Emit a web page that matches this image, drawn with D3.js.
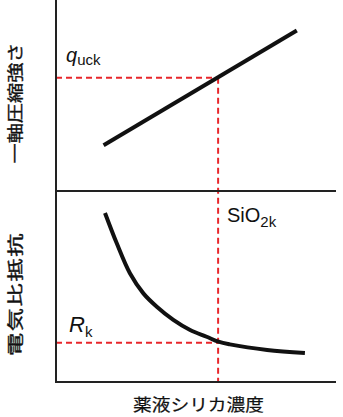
<!DOCTYPE html>
<html>
<head>
<meta charset="utf-8">
<script src="https://cdn.jsdelivr.net/npm/d3@7"></script>
<style>
  body { margin: 0; background: #fff; }
  text { font-family: Arial, "Liberation Sans", sans-serif; fill: #111; }
  .jp { font-family: "Noto Sans CJK JP", sans-serif; }
</style>
</head>
<body>
<div id="chart"></div>
<script>
// values (0-100 schematic units)
const strengthX = [17, 86];
const strengthY = [24, 84];
const resistX = [17.5, 21.7, 26.4, 31.2, 36.0, 41.9, 47.9, 53.8, 58.0, 62.1, 75.4, 88.9];
const resistY = [88.5, 72.6, 56.9, 46.4, 39.4, 32.5, 27.2, 23.7, 21.1, 19.7, 16.8, 15.2];
const silicaK = 57.9;
const quck = 59.3;
const rk = 20.6;

const width = 343, height = 417;
const svg = d3.select("#chart").append("svg")
    .attr("width", width)
    .attr("height", height);

const x = d3.scaleLinear().domain([0, 100]).range([56, 336]);
const yTop = d3.scaleLinear().domain([0, 100]).range([191, 0]);
const yBot = d3.scaleLinear().domain([0, 100]).range([382, 191]);

const red = "#e8262b";

// red dashed guides
const dash = "6,4";
svg.append("line")
    .attr("x1", x(0)).attr("x2", x(silicaK))
    .attr("y1", yTop(quck)).attr("y2", yTop(quck))
    .attr("stroke", red).attr("stroke-width", 2).attr("stroke-dasharray", dash);
svg.append("line")
    .attr("x1", x(silicaK)).attr("x2", x(silicaK))
    .attr("y1", yTop(quck)).attr("y2", yBot(0))
    .attr("stroke", red).attr("stroke-width", 2).attr("stroke-dasharray", dash);
svg.append("line")
    .attr("x1", x(0)).attr("x2", x(silicaK))
    .attr("y1", yBot(rk)).attr("y2", yBot(rk))
    .attr("stroke", red).attr("stroke-width", 2).attr("stroke-dasharray", dash);

// axes frame
svg.append("line")
    .attr("x1", x(0)).attr("x2", x(0))
    .attr("y1", 0).attr("y2", yBot(0) + 1)
    .attr("stroke", "#222").attr("stroke-width", 2);
svg.append("line")
    .attr("x1", x(0)).attr("x2", x(100))
    .attr("y1", yTop(0)).attr("y2", yTop(0))
    .attr("stroke", "#222").attr("stroke-width", 2);
svg.append("line")
    .attr("x1", x(0)).attr("x2", x(100))
    .attr("y1", yBot(0)).attr("y2", yBot(0))
    .attr("stroke", "#222").attr("stroke-width", 2);

// strength line
const topLine = d3.line().x(d => x(d[0])).y(d => yTop(d[1]));
svg.append("path")
    .datum(d3.zip(strengthX, strengthY))
    .attr("d", topLine)
    .attr("fill", "none")
    .attr("stroke", "#111")
    .attr("stroke-width", 4);

// resistivity curve
const botLine = d3.line().x(d => x(d[0])).y(d => yBot(d[1])).curve(d3.curveCatmullRom);
svg.append("path")
    .datum(d3.zip(resistX, resistY))
    .attr("d", botLine)
    .attr("fill", "none")
    .attr("stroke", "#111")
    .attr("stroke-width", 4);

// labels
const qt = svg.append("text").attr("x", 66).attr("y", 62).style("font-size", "20px");
qt.append("tspan").style("font-style", "italic").text("q");
qt.append("tspan").attr("dy", 3).style("font-size", "15px").text("uck");

const st = svg.append("text").attr("x", 227).attr("y", 222).style("font-size", "20px");
st.append("tspan").text("SiO");
st.append("tspan").attr("dy", 5).style("font-size", "15px").text("2k");

const rt = svg.append("text").attr("x", 69).attr("y", 332).style("font-size", "22px");
rt.append("tspan").style("font-style", "italic").text("R");
rt.append("tspan").attr("dy", 5).style("font-size", "15px").text("k");

// rotated axis titles (glyphs are wide in the original)
svg.append("text")
    .attr("class", "jp")
    .attr("transform", "translate(21,103) rotate(-90) scale(1.26,1)")
    .attr("text-anchor", "middle")
    .style("font-size", "16px")
    .attr("stroke", "#111").attr("stroke-width", 0.35)
    .text("一軸圧縮強さ");

svg.append("text")
    .attr("class", "jp")
    .attr("transform", "translate(21,294) rotate(-90) scale(1.45,1)")
    .attr("text-anchor", "middle")
    .style("font-size", "16px")
    .style("letter-spacing", "1.1px")
    .attr("stroke", "#111").attr("stroke-width", 0.35)
    .text("電気比抵抗");

svg.append("text")
    .attr("class", "jp")
    .attr("x", 133).attr("y", 411)
    .attr("textLength", 131)
    .attr("lengthAdjust", "spacingAndGlyphs")
    .style("font-size", "17px")
    .attr("stroke", "#111").attr("stroke-width", 0.2)
    .text("薬液シリカ濃度");
</script>
</body>
</html>
